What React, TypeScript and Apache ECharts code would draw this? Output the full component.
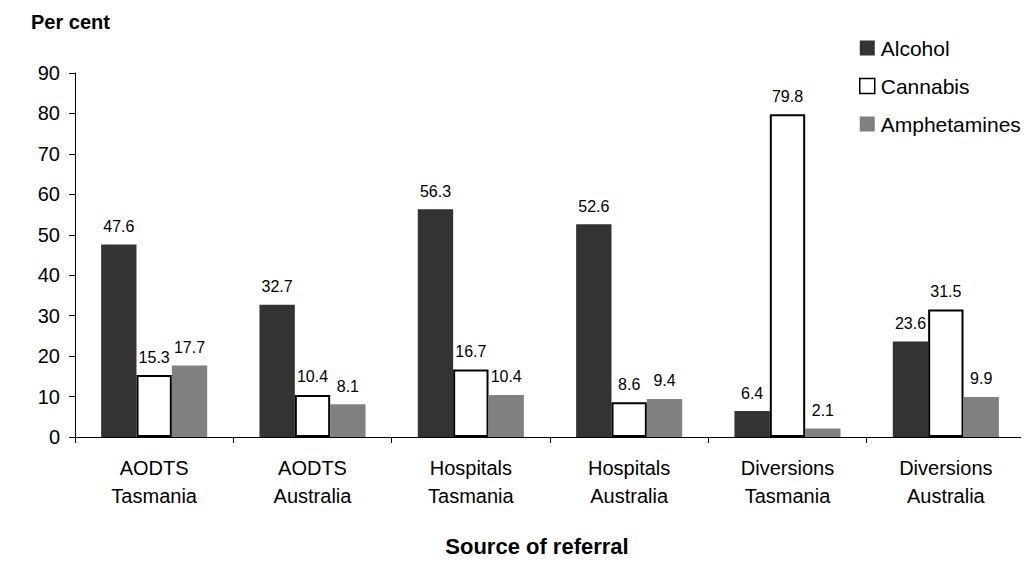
import React, { useEffect, useRef } from "react";
import * as echarts from "echarts";

const categories = [
  "AODTS\nTasmania",
  "AODTS\nAustralia",
  "Hospitals\nTasmania",
  "Hospitals\nAustralia",
  "Diversions\nTasmania",
  "Diversions\nAustralia",
];
const alcohol = [47.6, 32.7, 56.3, 52.6, 6.4, 23.6];
const cannabis = [15.3, 10.4, 16.7, 8.6, 79.8, 31.5];
const amphetamines = [17.7, 8.1, 10.4, 9.4, 2.1, 9.9];
const yTicks = { min: 0, max: 90, interval: 10 };

const FONT = "Liberation Sans, Arial, sans-serif";

export default function App() {
  const ref = useRef<HTMLDivElement>(null);
  useEffect(() => {
    if (!ref.current) return;
    const chart = echarts.init(ref.current, undefined, { renderer: "svg" });
    const label = {
      show: true,
      position: "top",
      distance: 10,
      color: "#000",
      fontSize: 16,
      fontFamily: FONT,
    };
    chart.setOption({
      animation: false,
      textStyle: { fontFamily: FONT },
      grid: { left: 75, right: 4, top: 73, bottom: 119, containLabel: false },
      graphic: [
        {
          type: "text",
          left: 31,
          top: 12,
          style: { text: "Per cent", font: "bold 20px Liberation Sans, Arial, sans-serif", fill: "#000" },
        },
      ],
      legend: {
        orient: "vertical",
        left: 859,
        top: 37,
        padding: 0,
        itemWidth: 15,
        itemHeight: 15,
        itemGap: 16,
        icon: "rect",
        textStyle: { fontSize: 21, lineHeight: 22, color: "#000", fontFamily: FONT, padding: [0, 0, 0, 1] },
        data: [
          { name: "Alcohol", itemStyle: { color: "#333333", borderWidth: 0 } },
          { name: "Cannabis", itemStyle: { color: "#ffffff", borderColor: "#000", borderWidth: 1.5 } },
          { name: "Amphetamines", itemStyle: { color: "#808080", borderWidth: 0 } },
        ],
      },
      xAxis: {
        type: "category",
        data: categories,
        axisLine: { show: true, lineStyle: { color: "#000", width: 1 } },
        axisTick: { show: true, length: 6, alignWithLabel: false, lineStyle: { color: "#000" } },
        axisLabel: { color: "#000", fontSize: 20, fontFamily: FONT, margin: 17, lineHeight: 28, interval: 0 },
        name: "Source of referral",
        nameLocation: "middle",
        nameGap: 98,
        nameTextStyle: { fontSize: 22, fontWeight: "bold", color: "#000", fontFamily: FONT, padding: [0, 26, 0, 0] },
      },
      yAxis: {
        type: "value",
        min: yTicks.min,
        max: yTicks.max,
        interval: yTicks.interval,
        axisLine: { show: true, lineStyle: { color: "#000", width: 1 } },
        axisTick: { show: true, length: 6, inside: false, lineStyle: { color: "#000" } },
        splitLine: { show: false },
        axisLabel: { color: "#000", fontSize: 20, fontFamily: FONT, margin: 15 },
      },
      series: [
        {
          name: "Alcohol",
          type: "bar",
          data: alcohol,
          barGap: "0%",
          barCategoryGap: "33%",
          itemStyle: { color: "#333333" },
          label,
        },
        {
          name: "Cannabis",
          type: "bar",
          data: cannabis,
          barGap: "0%",
          barCategoryGap: "33%",
          itemStyle: { color: "#ffffff", borderColor: "#000", borderWidth: 2 },
          label,
        },
        {
          name: "Amphetamines",
          type: "bar",
          data: amphetamines,
          barGap: "0%",
          barCategoryGap: "33%",
          itemStyle: { color: "#808080" },
          label,
        },
      ],
    });
    return () => chart.dispose();
  }, []);
  return <div ref={ref} style={{ width: 1029, height: 562, margin: -8 }} />;
}
